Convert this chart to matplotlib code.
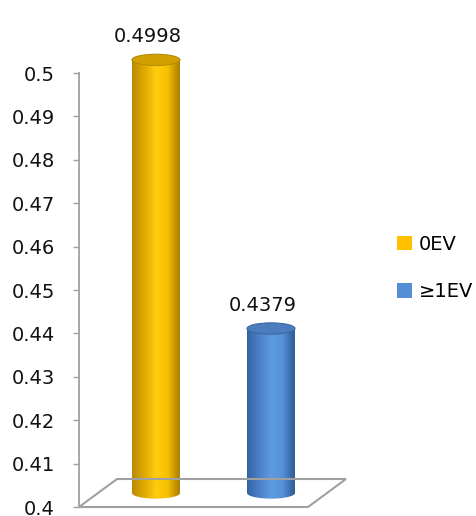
import numpy as np
import matplotlib
matplotlib.use("Agg")
import matplotlib.pyplot as plt
from matplotlib.patches import Ellipse, Polygon, Patch, PathPatch
from matplotlib.path import Path
from matplotlib.colors import to_rgb
import matplotlib.transforms as mtransforms

# Data
categories = ["0EV", "\u22651EV"]
values = [0.4998, 0.4379]
value_labels = ["0.4998", "0.4379"]
y_ticks = [0.4, 0.41, 0.42, 0.43, 0.44, 0.45, 0.46, 0.47, 0.48, 0.49, 0.5]
y_tick_labels = ["0.4", "0.41", "0.42", "0.43", "0.44", "0.45", "0.46", "0.47", "0.48", "0.49", "0.5"]

# Styling
base_colors = ["#FFC000", "#558ED5"]
gradients = [
    ["#B88A00", "#E0A800", "#FFCC10", "#F5C000", "#A87C00"],
    ["#3565A0", "#4A80C8", "#5E9AE0", "#5590D8", "#2F5A90"],
]
top_colors = ["#CFA000", "#4A7CBE"]
top_edges = ["#B88C00", "#3A68A5"]
grid_gray = "#A0A0A0"

W, H, DPI = 476, 516, 100
fig = plt.figure(figsize=(W / DPI, H / DPI), dpi=DPI)
plt.rcParams["font.family"] = ["DejaVu Sans"]

# axes placed in pixel units
ax_left, ax_right, ax_top, ax_bottom = 79, 308, 73, 507
ax = fig.add_axes([ax_left / W, (H - ax_bottom) / H,
                   (ax_right - ax_left) / W, (ax_bottom - ax_top) / H])
ax.set_facecolor("none")
for s in ["top", "right", "bottom"]:
    ax.spines[s].set_visible(False)
ax.spines["left"].set_color(grid_gray)
ax.spines["left"].set_linewidth(1.3)
ax.set_yticks(y_ticks)
ax.set_yticklabels(y_tick_labels)
ax.tick_params(axis="y", length=4.3, width=1.0, color=grid_gray,
               labelsize=14, pad=13, labelcolor="#111111")
ax.set_xticks([])

# 3D depth of the floor (pixels)
depth_dx, depth_dy = 38, 28
floor = Polygon([(ax_left / DPI, (H - ax_bottom) / DPI),
                 (ax_right / DPI, (H - ax_bottom) / DPI),
                 ((ax_right + depth_dx) / DPI, (H - ax_bottom + depth_dy) / DPI),
                 ((ax_left + depth_dx) / DPI, (H - ax_bottom + depth_dy) / DPI)],
                closed=True, facecolor="none", edgecolor=grid_gray, lw=1.5,
                transform=fig.dpi_scale_trans)
fig.patches.append(floor)

# bars sit halfway into the depth
shift = mtransforms.ScaledTranslation(depth_dx / 2 / DPI, depth_dy / 2 / DPI,
                                      fig.dpi_scale_trans)
bar_trans = ax.transData + shift

bar_width = 0.417
ry = 0.0013  # half-height of the cylinder ellipses, data units
base = 0.4
x = np.arange(len(categories))

bars = ax.bar(x, [v - base for v in values], bottom=base, width=bar_width,
              color="none", edgecolor="none", transform=bar_trans, clip_on=False)

for i, (xi, v) in enumerate(zip(x, values)):
    x0, x1 = xi - bar_width / 2, xi + bar_width / 2
    rx = bar_width / 2
    # silhouette: sides plus lower half of the bottom ellipse
    t = np.linspace(np.pi, 2 * np.pi, 60)
    bottom_arc = np.column_stack([xi + rx * np.cos(t), base + ry * np.sin(t)])
    verts = np.vstack([[x0, v], [x0, base], bottom_arc, [x1, base], [x1, v], [x0, v]])
    codes = [Path.MOVETO] + [Path.LINETO] * (len(verts) - 2) + [Path.CLOSEPOLY]
    clip = PathPatch(Path(verts, codes), facecolor="none",
                     edgecolor="none", transform=bar_trans, clip_on=False)
    ax.add_patch(clip)
    stops = np.linspace(0, 1, len(gradients[i]))
    cols = np.array([to_rgb(c) for c in gradients[i]])
    tt = np.linspace(0, 1, 200)
    grad = np.stack([np.interp(tt, stops, cols[:, k]) for k in range(3)], axis=-1)[None, :, :]
    im = ax.imshow(grad, extent=[x0, x1, base - ry, v], aspect="auto",
                   transform=bar_trans, interpolation="bilinear", zorder=2)
    im.set_clip_box(fig.bbox)
    im.set_clip_path(clip)
    # top cap
    top = Ellipse((xi, v), bar_width, 2 * ry, facecolor=top_colors[i],
                  edgecolor=top_edges[i], lw=0.8, transform=bar_trans,
                  zorder=3, clip_on=False)
    ax.add_patch(top)
    # value label
    ax.annotate(value_labels[i], xy=(xi, v), xycoords=bar_trans,
                xytext=(-8, 23), textcoords="offset pixels",
                ha="center", va="center", fontsize=14, color="#111111",
                annotation_clip=False)

ax.set_xlim(-0.504, 1.487)
ax.set_ylim(0.4, 0.5)

handles = [Patch(facecolor=c, edgecolor="none") for c in base_colors]
fig.legend(handles, categories, loc="center left",
           bbox_to_anchor=(397 / W, 1 - 268 / H), frameon=False,
           fontsize=14, handlelength=0.77, handleheight=0.77,
           handletextpad=0.35, labelspacing=1.45, borderaxespad=0,
           borderpad=0)

fig.savefig("out.png", dpi=DPI)
